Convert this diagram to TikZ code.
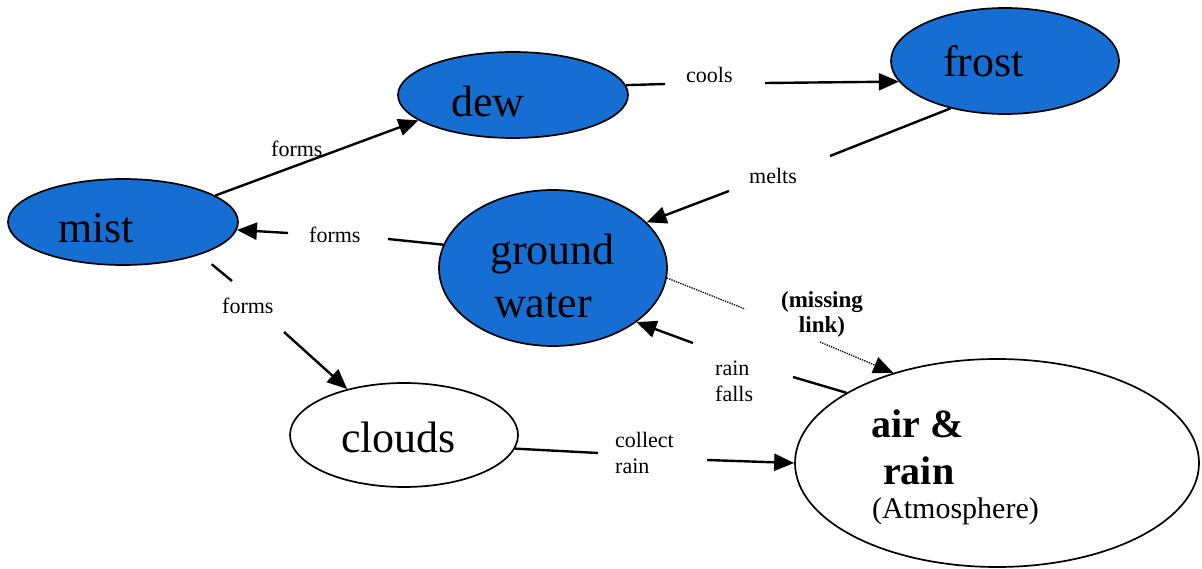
\documentclass[tikz,border=0pt]{standalone}
\usepackage{fontspec}
\setmainfont{Liberation Serif}
\usetikzlibrary{shapes.geometric,arrows.meta}
\definecolor{waterblue}{RGB}{22,110,210}
\begin{document}
\begin{tikzpicture}[x=1pt,y=-1pt,
  bubble/.style={ellipse,draw=black,line width=1.7pt,inner sep=0pt},
  wet/.style={bubble,fill=waterblue},
  dry/.style={bubble,fill=white},
  big/.style={font=\fontsize{44}{48}\selectfont,anchor=base west,inner sep=0pt},
  lbl/.style={font=\fontsize{22}{26}\selectfont,anchor=base west,inner sep=0pt,align=left},
  conn/.style={line width=2.4pt},
  tip/.style={-{Triangle[length=20pt,width=17pt]}},
  dotconn/.style={line width=1.3pt,dash pattern=on 1.3pt off 1.1pt},
]
\useasboundingbox (0,0) rectangle (1202,569);

% concept bubbles
\node[wet,minimum width=230pt,minimum height=86pt] (mist) at (123,222) {};
\node[wet,minimum width=230pt,minimum height=86pt] (dew) at (513,95) {};
\node[wet,minimum width=228pt,minimum height=106pt] (frost) at (1005,61) {};
\node[wet,minimum width=228pt,minimum height=156pt] (ground) at (553,268) {};
\node[dry,minimum width=228pt,minimum height=104pt] (clouds) at (404,435) {};
\node[dry,minimum width=404pt,minimum height=208pt] (air) at (997,463) {};

% bubble texts
\node[big] (tmist) at (58,243) {mist};
\node[big] (tdew) at (451,117) {dew};
\node[big] (tfrost) at (943,77) {frost};
\node[big] (tground) at (490,265) {ground};
\node[big] (twater) at (494,317) {water};
\node[big] (tclouds) at (341,452) {clouds};
\node[font=\bfseries\fontsize{40}{44}\selectfont,anchor=base west,inner sep=0pt] (tair) at (871,437) {air \&};
\node[font=\bfseries\fontsize{40}{44}\selectfont,anchor=base west,inner sep=0pt] (train) at (883,484) {rain};
\node[font=\fontsize{30}{34}\selectfont,anchor=base west,inner sep=0pt] (tatm) at (872,518) {(Atmosphere)};

% link labels (two-line labels are anchored at the baseline of their last line)
\node[lbl] (lforms1) at (271,157) {forms};
\node[lbl] (lforms2) at (309,243) {forms};
\node[lbl] (lforms3) at (222,313) {forms};
\node[lbl] (lcools) at (686,83) {cools};
\node[lbl] (lmelts) at (749,184) {melts};
\node[lbl] (lrain1) at (715,401) {rain\\falls};
\node[lbl] (lcollect) at (615,473) {collect\\rain};
\node[font=\bfseries\fontsize{23}{25}\selectfont,anchor=base,inner sep=0pt] (lmiss1) at (822,308) {(missing};
\node[font=\bfseries\fontsize{23}{25}\selectfont,anchor=base,inner sep=0pt] (lmiss2) at (822,333) {link)};

% break points of the connectors around their labels
\coordinate (c1) at (665,84);
\coordinate (c2) at (765,83);
\coordinate (m1) at (830,156);
\coordinate (m2) at (729,191);
\coordinate (g1) at (388,239);
\coordinate (g2) at (288,233);
\coordinate (f1) at (232,281);
\coordinate (f2) at (284,332);
\coordinate (r1) at (793,377);
\coordinate (r2) at (693,343);
\coordinate (k1) at (598,453);
\coordinate (k2) at (707,460);
\coordinate (d1) at (745,309);
\coordinate (d2) at (820,342);

% connectors
\draw[conn,tip] (mist.16) -- (dew.195);
\draw[conn] (dew.5) -- (c1);
\draw[conn,tip] (c2) -- (frost.191);
\draw[conn] (frost.221) -- (m1);
\draw[conn,tip] (m2) -- (ground.26);
\draw[conn] (ground.168) -- (g1);
\draw[conn,tip] (g2) -- (mist.-4);
\draw[conn,shorten <=15pt] (mist.-23) -- (f1);
\draw[conn,tip] (f2) -- (clouds.141);
\draw[conn] (air.155.6) -- (r1);
\draw[conn,tip] (r2) -- (ground.-33);
\draw[conn] (clouds.-7.6) -- (k1);
\draw[conn,tip] (k2) -- (air.180);
\draw[dotconn] (ground.-5) -- (d1);
\draw[dotconn,tip] (d2) -- (air.139);
\end{tikzpicture}
\end{document}
